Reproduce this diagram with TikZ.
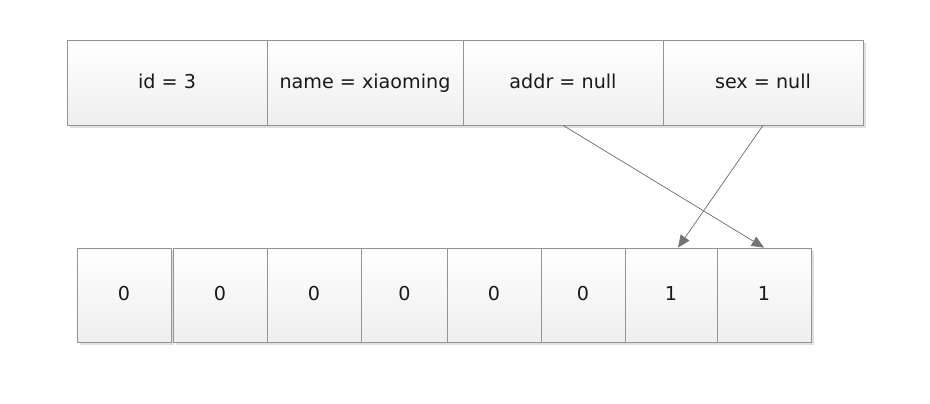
\documentclass[tikz,border=0pt]{standalone}
\usepackage{fontspec}
\setmainfont{DejaVu Sans}
\usetikzlibrary{shadows,arrows.meta}

\tikzset{
  field/.style={draw=gray!85, top color=white, bottom color=gray!13,
    drop shadow={shadow xshift=1.6pt, shadow yshift=-1.6pt, fill=gray!25, opacity=1},
    minimum height=1.7cm, inner sep=0pt, text=black!90,
    text height=1.6ex, text depth=.4ex,
    font=\fontsize{10.9}{12}\selectfont},
  bit/.style={field, minimum height=1.88cm},
  link/.style={-{Triangle[length=7pt,width=6pt]}, draw=gray!90!black, fill=gray!90!black, thin}
}

\begin{document}
\begin{tikzpicture}[x=0.02cm, y=-0.02cm]

  \useasboundingbox (0,0) rectangle (930,404);

  % --- Object fields ---
  \node[field, minimum width=4cm]    (id)   at (167,82.5) {id = 3};
  \node[field, minimum width=3.92cm] (name) at (365,82.5) {name = xiaoming};
  \node[field, minimum width=4cm]    (addr) at (563,82.5) {addr = null};
  \node[field, minimum width=4cm]    (sex)  at (763,82.5) {sex = null};

  % --- Bit array ---
  \node[bit, minimum width=1.88cm] (b1) at (124,295) {0};
  \node[bit, minimum width=1.88cm] (b2) at (220,295) {0};
  \node[bit, minimum width=1.88cm] (b3) at (314,295) {0};
  \node[bit, minimum width=1.74cm] (b4) at (404.5,295) {0};
  \node[bit, minimum width=1.88cm] (b5) at (494,295) {0};
  \node[bit, minimum width=1.68cm] (b6) at (583,295) {0};
  \node[bit, minimum width=1.84cm] (b7) at (671,295) {1};
  \node[bit, minimum width=1.88cm] (b8) at (764,295) {1};

  % --- Field to bit ---
  \draw[link] (addr.south) -- (b8.north);
  \draw[link] (sex.south) -- ([xshift=4]b7.north);

\end{tikzpicture}
\end{document}
